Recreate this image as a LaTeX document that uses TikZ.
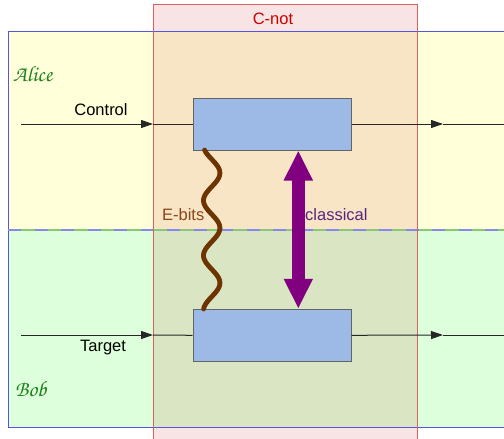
\documentclass[tikz,border=0pt]{standalone}
\usepackage{fontspec}
\setmainfont{Liberation Sans}
\newfontfamily\chancery{texgyrechorus-mediumitalic.otf}
\usetikzlibrary{arrows.meta,calc}

\definecolor{alicefill}{RGB}{255,255,217}
\definecolor{bobfill}{RGB}{221,255,219}
\definecolor{bandfill}{RGB}{248,228,228}
\definecolor{bandalice}{RGB}{248,229,198}
\definecolor{bandbob}{RGB}{218,229,196}
\definecolor{regionblue}{RGB}{85,85,221}
\definecolor{splitgreen}{RGB}{136,200,120}
\definecolor{bandred}{RGB}{220,96,96}
\definecolor{titlered}{RGB}{204,0,0}
\definecolor{gatefill}{RGB}{157,185,230}
\definecolor{gateline}{RGB}{100,100,100}
\definecolor{ebitbrown}{RGB}{110,52,0}
\definecolor{ebittext}{RGB}{140,70,25}
\definecolor{classpurple}{RGB}{128,0,128}
\definecolor{classtext}{RGB}{90,35,125}
\definecolor{partygreen}{RGB}{30,130,30}

\tikzset{
  label/.style={font=\fontsize{16.5}{18}\selectfont, inner sep=0pt},
  party/.style={font=\chancery\fontsize{22}{24}\selectfont, text=partygreen, inner sep=0pt, anchor=west},
  gate/.style={draw=gateline, line width=1pt, fill=gatefill, minimum width=158pt, minimum height=52pt, inner sep=0pt},
  wire/.style={draw=black!85, line width=1pt},
  wirehead/.style={-{Triangle[length=12pt,width=8pt]}},
  ebits/.style={draw=ebitbrown, line width=4.8pt, line cap=round},
  classic/.style={draw=classpurple, line width=13pt,
    {Triangle[length=30pt,width=27pt]}-{Triangle[length=30pt,width=27pt]}},
}

\begin{document}
\begin{tikzpicture}[x=1pt,y=-1pt]
\useasboundingbox (0,0) rectangle (504,439);
\clip (0,0) rectangle (504,439);

% party regions and the C-not band
\fill[alicefill] (8,31.5) rectangle (520,230);
\fill[bobfill] (8,230) rectangle (520,427);
\fill[bandfill] (153,4.5) rectangle (417,450);
\fill[bandalice] (153,31.5) rectangle (417,230);
\fill[bandbob] (153,230) rectangle (417,427);

% region borders
\draw[regionblue, line width=1pt] (520,31.5) -- (8,31.5) -- (8,427) -- (520,427);
\draw[splitgreen, line width=1.6pt] (8,230) -- (520,230);
\draw[regionblue!70, line width=1.6pt, dash pattern=on 13.25pt off 13.25pt] (8,230) -- (520,230);
\draw[bandred, line width=1pt] (153,450) -- (153,4.5) -- (417,4.5) -- (417,450);

% titles
\node[label, text=titlered] (title) at (273,18.5) {C-not};
\node[party] (alice) at (13,74) {Alice};
\node[party] (bob) at (15,389) {Bob};

% gates
\node[gate] (cbox) at (272,124) {};
\node[gate] (tbox) at (272,335.3) {};

% control wire
\coordinate (cin) at (21,124);
\coordinate (cmid) at (153,124);
\coordinate (cout) at (504,124);
\coordinate (cmid2) at (443,124);
\draw[wire, wirehead] (cin) -- (cmid);
\draw[wire] (cmid) -- (cbox.west);
\draw[wire, wirehead] (cbox.east) -- (cmid2);
\draw[wire] (cmid2) -- (cout);
\node[label] (ctrl) at (101,110) {Control};

% target wire
\coordinate (tin) at (21,335);
\coordinate (tmid) at (153,335);
\coordinate (tout) at (504,335);
\coordinate (tmid2) at (443,335);
\draw[wire, wirehead] (tin) -- (tmid);
\draw[wire] (tmid) -- (tbox.west);
\draw[wire, wirehead] (tbox.east) -- (tmid2);
\draw[wire] (tmid2) -- (tout);
\node[label] (tgt) at (103,348) {Target};

% entangled bits: a wavy line from gate to gate
\draw[ebits] plot[domain=150:309, samples=120, smooth] ({211.7+8.2*cos(6.5455*(\x-173))}, \x);
\node[label, text=ebittext, anchor=east] (ebl) at (204.5,215) {E-bits};

% classical channel
\coordinate (ax) at (298.3,0);
\draw[classic] (cbox.south -| ax) -- (tbox.north -| ax);
\node[label, text=classtext, anchor=west] (cll) at (305,215) {classical};
\end{tikzpicture}
\end{document}
